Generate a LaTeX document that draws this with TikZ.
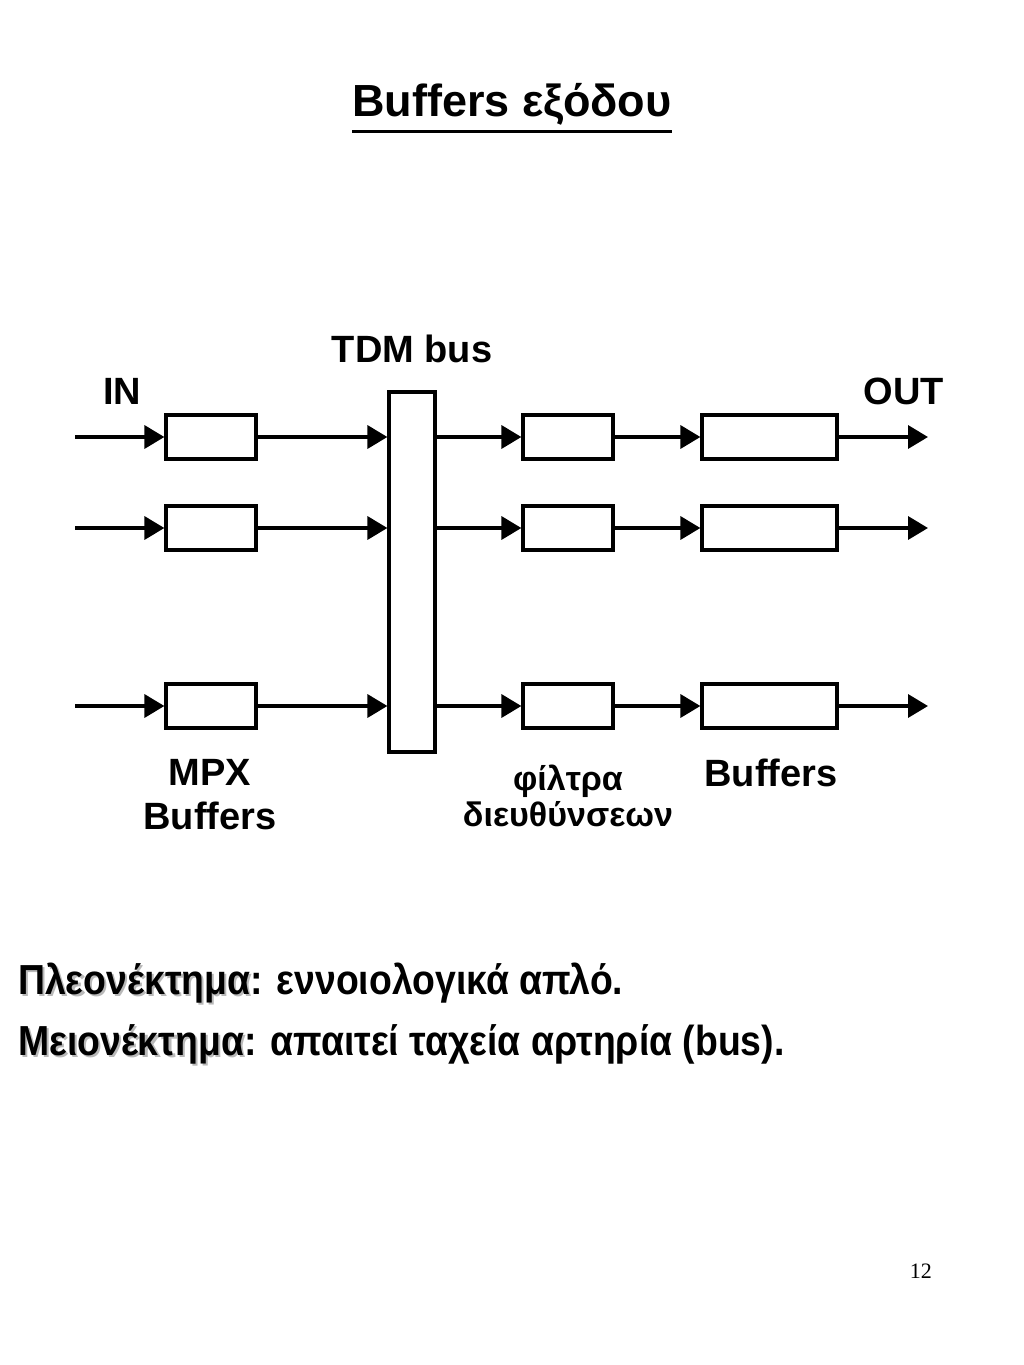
\documentclass[tikz,border=0pt]{standalone}
\usepackage{fontspec}
\setmainfont{Liberation Sans}
\newfontfamily\pagefont{Liberation Serif}
\usetikzlibrary{arrows.meta}
\tikzstyle{arrow} = [line width=3.5pt,-{Triangle[length=20pt,width=23pt]}]
\tikzstyle{buf} = [draw,line width=3.2pt,minimum height=44pt,inner sep=0pt]
\tikzstyle{lbl} = [font=\fontsize{38}{44}\selectfont\bfseries,align=center]
\tikzstyle{txt} = [font=\fontsize{42}{46}\selectfont\bfseries,anchor=base west,inner sep=0pt,xscale=0.89,transform shape]
\newcommand{\shadowed}[1]{\makebox[0pt][l]{\hspace{2.5pt}\raisebox{-2.5pt}{\color{gray!55}#1}}#1}

\begin{document}
\begin{tikzpicture}[x=1pt,y=1pt]
\useasboundingbox[fill=white] (0,0) rectangle (1024,-1365);
\node[font=\fontsize{45}{48}\selectfont\bfseries,anchor=base,inner sep=0pt] (title) at (512,-116) {Buffers εξόδου};
\draw[line width=3pt] ([yshift=-15pt]title.base west) -- ([yshift=-15pt]title.base east);
% bus
\node[buf,minimum width=46pt,minimum height=360pt] (bus) at (412,-572) {};
\node[lbl,anchor=base] (tdm) at (412,-362) {TDM bus};
\node[lbl,anchor=base] (in) at (122,-404) {IN};
\node[lbl,anchor=base] (out) at (904,-404) {OUT};
% rows
\foreach \r/\y in {1/437,2/528,3/706}{
	\coordinate (src\r) at (75,-\y);
	\coordinate (dst\r) at (928,-\y);
	\node[buf,minimum width=90pt] (mpx\r) at (211,-\y) {};
	\node[buf,minimum width=90pt] (flt\r) at (568,-\y) {};
	\node[buf,minimum width=135pt] (obuf\r) at (769.5,-\y) {};
	\draw[arrow] (src\r) -- (mpx\r.west);
	\draw[arrow] (mpx\r.east) -- (mpx\r.east -| bus.west);
	\draw[arrow] (flt\r.west -| bus.east) -- (flt\r.west);
	\draw[arrow] (flt\r.east) -- (obuf\r.west);
	\draw[arrow] (obuf\r.east) -- (dst\r);
}
\node[lbl] (mpxlbl) at (210,-795) {MPX\\Buffers};
\node[lbl,anchor=base] (buflbl) at (771,-786) {Buffers};
\node[lbl,font=\fontsize{34}{36}\selectfont\bfseries] (fltlbl) at (568,-796) {φίλτρα\\διευθύνσεων};
% text
\node[txt] (adv) at (18,-994) {\shadowed{Πλεονέκτημα}: εννοιολογικά απλό.};
\node[txt] (dis) at (18,-1055) {\shadowed{Μειονέκτημα}: απαιτεί ταχεία αρτηρία (bus).};
\node[font=\fontsize{22}{24}\selectfont\pagefont,anchor=base east,inner sep=0pt] (page) at (932,-1278) {12};
\end{tikzpicture}
\end{document}
